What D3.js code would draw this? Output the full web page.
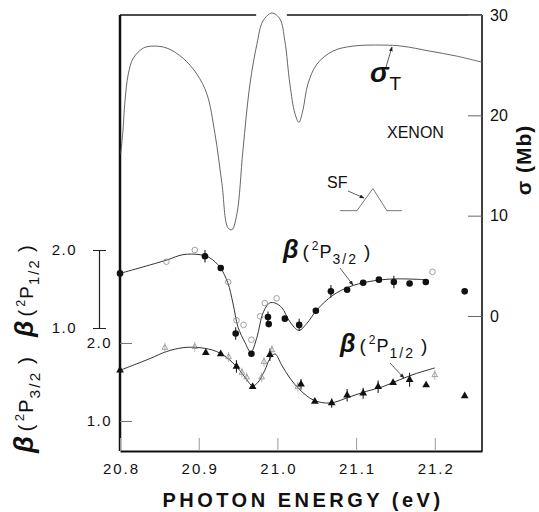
<!DOCTYPE html>
<html>
<head>
<meta charset="utf-8">
<script src="https://cdn.jsdelivr.net/npm/d3@7"></script>
<style>
  body { margin: 0; background: #fff; }
  text { font-family: "Liberation Sans", Arial, sans-serif; fill: #111; }
</style>
</head>
<body>
<div id="chart"></div>
<script>
// tick values
var energyTicks = [20.8, 20.9, 21.0, 21.1, 21.2];
var sigmaTicks = [0, 10, 20, 30];
var betaTicks = [1.0, 2.0];

// total cross section sigma_T (Mb) vs photon energy (eV)
var sigmaE = [20.8009, 20.8034, 20.8063, 20.8105, 20.8169, 20.8296, 20.842, 20.8597, 20.880, 20.8978,
  20.9105, 20.9206, 20.9295, 20.9371, 20.9422, 20.9486, 20.9562, 20.9651, 20.974, 20.9816,
  20.993, 21.0032, 21.0095, 21.0159, 21.0222, 21.0273, 21.0324, 21.0387, 21.0502, 21.0705,
  21.0959, 21.134, 21.158, 21.1937, 21.228, 21.2597];
var sigmaV = [16.2, 18.1, 21.4, 24.1, 25.7, 26.7, 26.9, 26.7, 25.7, 24.1,
  22.1, 18.2, 13.2, 8.8, 8.6, 10.2, 16.5, 23.1, 27.1, 29.4,
  30.2, 29.6, 27.4, 23.1, 20.2, 19.3, 20.5, 23.1, 25.1, 26.4,
  26.9, 27.0, 26.9, 26.4, 25.9, 25.3];

// beta(2P3/2) fitted curve (upper scale)
var fit32E = [20.80, 20.859, 20.880, 20.9016, 20.914, 20.927, 20.937, 20.9435, 20.950, 20.959,
  20.9663, 20.974, 20.9816, 20.990, 20.997, 21.0057, 21.0159, 21.0273, 21.0375, 21.050,
  21.0705, 21.092, 21.1137, 21.134, 21.1556, 21.187];
var fit32V = [1.70, 1.87, 1.94, 1.94, 1.90, 1.78, 1.58, 1.32, 1.01, 0.81,
  0.69, 0.88, 1.19, 1.32, 1.32, 1.26, 1.08, 0.97, 1.06, 1.23,
  1.42, 1.53, 1.59, 1.62, 1.63, 1.62];

// beta(2P3/2) measured points, filled circles (with error bars where err > 0)
var dot32E = [20.80, 20.908, 20.928, 20.947, 20.967, 20.988, 20.989, 21.0095, 21.0277, 21.0489,
  21.068, 21.0886, 21.109, 21.129, 21.148, 21.168, 21.1886, 21.238];
var dot32V = [1.70, 1.92, 1.77, 0.93, 0.67, 1.14, 1.05, 1.12, 1.04, 1.22,
  1.47, 1.49, 1.58, 1.62, 1.59, 1.57, 1.59, 1.47];
var dot32Err = [0, 0.08, 0, 0.08, 0, 0.07, 0, 0, 0.08, 0,
  0.08, 0, 0, 0, 0.08, 0, 0, 0];

// beta(2P3/2) other points, open circles
var open32E = [20.859, 20.895, 20.9375, 20.948, 20.957, 20.967, 20.978, 20.984, 20.999, 21.197];
var open32V = [1.85, 2.00, 1.59, 1.10, 1.04, 0.85, 1.15, 1.32, 1.38, 1.72];

// beta(2P1/2) fitted curve (lower scale)
var fit12E = [20.80, 20.838, 20.859, 20.880, 20.9016, 20.923, 20.9397, 20.952, 20.961, 20.9685,
  20.9756, 20.984, 20.9905, 20.997, 21.0053, 21.0159, 21.0286, 21.0455, 21.0667, 21.092,
  21.113, 21.134, 21.1556, 21.1768, 21.20];
var fit12V = [1.65, 1.80, 1.89, 1.94, 1.94, 1.89, 1.78, 1.65, 1.53, 1.45,
  1.50, 1.65, 1.80, 1.86, 1.72, 1.55, 1.40, 1.27, 1.23, 1.31,
  1.38, 1.44, 1.53, 1.61, 1.68];

// beta(2P1/2) measured points, filled triangles
var tri12E = [20.80, 20.909, 20.928, 20.948, 20.9685, 20.9905, 21.03, 21.0476, 21.069, 21.0886,
  21.109, 21.128, 21.147, 21.168, 21.189, 21.238];
var tri12V = [1.65, 1.876, 1.86, 1.70, 1.44, 1.85, 1.47, 1.25, 1.23, 1.33,
  1.355, 1.44, 1.49, 1.53, 1.46, 1.32];
var tri12Err = [0, 0, 0, 0.08, 0, 0.08, 0.07, 0, 0.06, 0.08,
  0.07, 0.08, 0, 0.09, 0, 0];

// beta(2P1/2) other points, open triangles
var open12E = [20.857, 20.895, 20.938, 20.955, 20.961, 20.980, 20.983, 20.993, 21.026, 21.20];
var open12V = [1.94, 1.95, 1.82, 1.62, 1.56, 1.56, 1.76, 1.91, 1.44, 1.59];

// slit function sketch (drawn on the sigma scale)
var sfE = [21.0795, 21.1011, 21.1214, 21.1392, 21.1583];
var sfV = [10.5, 10.5, 12.7, 10.5, 10.5];

var width = 539, height = 512;

var svg = d3.select("#chart").append("svg")
    .attr("width", width)
    .attr("height", height);
svg.append("rect").attr("width", width).attr("height", height).attr("fill", "#fff");

var defs = svg.append("defs");
defs.append("marker")
    .attr("id", "arr")
    .attr("viewBox", "0 0 10 10")
    .attr("refX", 9).attr("refY", 5)
    .attr("markerWidth", 6).attr("markerHeight", 6)
    .attr("orient", "auto")
    .append("path").attr("d", "M0,1 L10,5 L0,9 Z").attr("fill", "#222");

var x = d3.scaleLinear().domain([20.8, 21.26]).range([120, 482]);
var ySig = d3.scaleLinear().domain([0, 30]).range([316, 15]);
var yUp = d3.scaleLinear().domain([1, 2]).range([328, 250]);
var yLow = d3.scaleLinear().domain([1, 2]).range([421, 343]);

var fmt = d3.format(".1f");

// frame
var frame = svg.append("g").attr("stroke", "#111").attr("fill", "none");
frame.append("line").attr("x1", x(20.8)).attr("x2", x(20.8)).attr("y1", ySig(30)).attr("y2", 451).attr("stroke-width", 2.5);
frame.append("line").attr("x1", x(21.26)).attr("x2", x(21.26)).attr("y1", ySig(30)).attr("y2", 451).attr("stroke-width", 1.6);
frame.append("line").attr("x1", x(20.8)).attr("x2", x(20.973)).attr("y1", ySig(30)).attr("y2", ySig(30)).attr("stroke-width", 1.5);
frame.append("line").attr("x1", x(21.012)).attr("x2", x(21.26)).attr("y1", ySig(30)).attr("y2", ySig(30)).attr("stroke-width", 1.5);

// bottom axis
var xAxis = svg.append("g")
    .attr("transform", "translate(0,451)")
    .call(d3.axisBottom(x).tickValues(energyTicks).tickFormat(fmt)
        .tickSizeInner(-13).tickSizeOuter(0).tickPadding(12));
xAxis.select(".domain").attr("stroke", "#111").attr("stroke-width", 2.2);
xAxis.selectAll(".tick line").attr("stroke", "#999");
xAxis.selectAll("text").attr("font-size", 15).attr("letter-spacing", 2).attr("dx", 1).attr("fill", "#111");

// right sigma axis
var rAxis = svg.append("g")
    .attr("transform", "translate(" + x(21.26) + ",0)")
    .call(d3.axisRight(ySig).tickValues(sigmaTicks).tickSizeInner(-14).tickSizeOuter(0).tickPadding(8));
rAxis.select(".domain").remove();
rAxis.selectAll(".tick line").attr("stroke", "#666");
rAxis.selectAll("text").attr("font-size", 16).attr("fill", "#111");

// left beta axis (lower curve)
var lAxis = svg.append("g")
    .attr("transform", "translate(" + x(20.8) + ",0)")
    .call(d3.axisLeft(yLow).tickValues(betaTicks).tickFormat(fmt).tickSizeInner(-12).tickSizeOuter(0).tickPadding(8));
lAxis.select(".domain").remove();
lAxis.selectAll(".tick line").attr("stroke", "#777");
lAxis.selectAll("text").attr("font-size", 15).attr("letter-spacing", 1.5).attr("fill", "#111");

// separate scale bar for the upper curve
var uAxis = svg.append("g")
    .attr("transform", "translate(99,0)")
    .call(d3.axisLeft(yUp).tickValues(betaTicks).tickFormat(fmt).tickSizeInner(6).tickSizeOuter(0).tickPadding(16));
uAxis.select(".domain").attr("stroke", "#222").attr("stroke-width", 1.2);
uAxis.selectAll(".tick line").attr("x1", 7).attr("stroke", "#222");
uAxis.selectAll("text").attr("font-size", 15).attr("letter-spacing", 1.5).attr("fill", "#111");

// sigma_T curve
var sigLine = d3.line()
    .x(function (d, i) { return x(sigmaE[i]); })
    .y(function (d) { return ySig(d); })
    .curve(d3.curveCatmullRom.alpha(0.5));
svg.append("path").datum(sigmaV)
    .attr("d", sigLine)
    .attr("fill", "none").attr("stroke", "#555").attr("stroke-width", 0.9);

// beta fit curves
function fitPath(es, vs, yScale) {
    var line = d3.line()
        .x(function (d, i) { return x(es[i]); })
        .y(function (d) { return yScale(d); })
        .curve(d3.curveCatmullRom.alpha(0.5));
    svg.append("path").datum(vs)
        .attr("d", line)
        .attr("fill", "none").attr("stroke", "#333").attr("stroke-width", 1);
}
fitPath(fit32E, fit32V, yUp);
fitPath(fit12E, fit12V, yLow);

// error bars
function errBars(es, vs, errs, yScale) {
    var idx = d3.range(vs.length).filter(function (i) { return errs[i] > 0; });
    svg.append("g").selectAll("line").data(idx).enter()
        .append("line")
        .attr("x1", function (i) { return x(es[i]); })
        .attr("x2", function (i) { return x(es[i]); })
        .attr("y1", function (i) { return yScale(vs[i] + errs[i]); })
        .attr("y2", function (i) { return yScale(vs[i] - errs[i]); })
        .attr("stroke", "#222").attr("stroke-width", 1.1);
}
errBars(dot32E, dot32V, dot32Err, yUp);
errBars(tri12E, tri12V, tri12Err, yLow);

// open circles (upper)
svg.append("g").selectAll("circle").data(open32V).enter().append("circle")
    .attr("cx", function (d, i) { return x(open32E[i]); })
    .attr("cy", function (d) { return yUp(d); })
    .attr("r", 2.8)
    .attr("fill", "none").attr("stroke", "#888").attr("stroke-width", 0.8);

// open triangles (lower)
var smallTri = d3.symbol().type(d3.symbolTriangle).size(14);
svg.append("g").selectAll("path").data(open12V).enter().append("path")
    .attr("d", smallTri)
    .attr("transform", function (d, i) { return "translate(" + x(open12E[i]) + "," + yLow(d) + ")"; })
    .attr("fill", "none").attr("stroke", "#888").attr("stroke-width", 0.8);
svg.append("g").selectAll("line").data(open12V).enter().append("line")
    .attr("x1", function (d, i) { return x(open12E[i]); })
    .attr("x2", function (d, i) { return x(open12E[i]); })
    .attr("y1", function (d) { return yLow(d) - 5; })
    .attr("y2", function (d) { return yLow(d) + 5; })
    .attr("stroke", "#999").attr("stroke-width", 0.7);

// filled circles (upper)
svg.append("g").selectAll("circle").data(dot32V).enter().append("circle")
    .attr("cx", function (d, i) { return x(dot32E[i]); })
    .attr("cy", function (d) { return yUp(d); })
    .attr("r", 3.3)
    .attr("fill", "#111");

// filled triangles (lower)
var bigTri = d3.symbol().type(d3.symbolTriangle).size(26);
svg.append("g").selectAll("path").data(tri12V).enter().append("path")
    .attr("d", bigTri)
    .attr("transform", function (d, i) { return "translate(" + x(tri12E[i]) + "," + yLow(d) + ")"; })
    .attr("fill", "#111");

// beta label builder
function betaLabel(sel, sub, s) {
    sel.append("tspan").text("β").attr("font-size", 25 * s).attr("font-weight", "bold").attr("font-style", "italic");
    sel.append("tspan").text("(").attr("font-size", 19 * s).attr("dx", 4 * s);
    sel.append("tspan").text("2").attr("font-size", 12 * s).attr("dx", 3 * s).attr("dy", -8 * s);
    sel.append("tspan").text("P").attr("font-size", 18 * s).attr("dx", 1 * s).attr("dy", 8 * s);
    sel.append("tspan").text(sub).attr("font-size", 14 * s).attr("dx", 1 * s).attr("dy", 6 * s).attr("letter-spacing", 2 * s);
    sel.append("tspan").text(")").attr("font-size", 19 * s).attr("dx", 6 * s).attr("dy", -6 * s);
}

betaLabel(svg.append("text").attr("x", 283).attr("y", 258), "3/2", 1);
betaLabel(svg.append("text").attr("x", 340).attr("y", 352), "1/2", 1);

// left titles (rotated)
betaLabel(svg.append("text").attr("transform", "translate(33,337) rotate(-90)"), "1/2", 1.05);
betaLabel(svg.append("text").attr("transform", "translate(33,453) rotate(-90)"), "3/2", 1.1);

// right title
var rt = svg.append("text")
    .attr("transform", "translate(531,160) rotate(-90)")
    .attr("text-anchor", "middle")
    .attr("font-size", 21).attr("font-weight", "bold").attr("letter-spacing", 1);
rt.append("tspan").text("σ");
rt.append("tspan").text(" (Mb)");

// x title
svg.append("text")
    .attr("x", 303).attr("y", 507)
    .attr("text-anchor", "middle")
    .attr("font-size", 20).attr("font-weight", "bold").attr("letter-spacing", 3.5)
    .text("PHOTON ENERGY (eV)");

// sigma_T label
var st = svg.append("text").attr("x", 370).attr("y", 82);
st.append("tspan").text("σ").attr("font-size", 28).attr("font-weight", "bold").attr("font-style", "italic");
st.append("tspan").text("T").attr("font-size", 19).attr("dx", 1).attr("dy", 8);

svg.append("text").attr("x", 387).attr("y", 138).attr("font-size", 16).text("XENON");
svg.append("text").attr("x", 327).attr("y", 188).attr("font-size", 16).text("SF");

svg.append("path")
    .datum(sfV)
    .attr("d", d3.line()
        .x(function (d, i) { return x(sfE[i]); })
        .y(function (d) { return ySig(d); }))
    .attr("fill", "none").attr("stroke", "#555").attr("stroke-width", 0.8);

// leader arrows
var leaders = [
    [386, 67, 392, 47],
    [348, 191, 364, 198],
    [340, 268, 353, 285],
    [390, 363, 404, 378]
];
svg.append("g").selectAll("line").data(leaders).enter().append("line")
    .attr("x1", function (d) { return d[0]; })
    .attr("y1", function (d) { return d[1]; })
    .attr("x2", function (d) { return d[2]; })
    .attr("y2", function (d) { return d[3]; })
    .attr("stroke", "#333").attr("stroke-width", 0.8)
    .attr("marker-end", "url(#arr)");
</script>
</body>
</html>
